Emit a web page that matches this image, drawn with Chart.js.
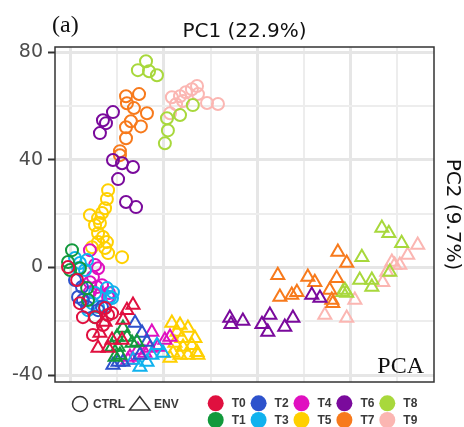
<!DOCTYPE html>
<html>
<head>
<meta charset="utf-8">
<script src="https://cdn.jsdelivr.net/npm/chart.js@4.4.1/dist/chart.umd.min.js"></script>
<style>
  html, body { margin: 0; padding: 0; background: #fff; }
  canvas { display: block; }
</style>
</head>
<body>
<canvas id="pcaChart" width="464" height="427"></canvas>
<script>
// groups and their colours
const groups = ['T0', 'T1', 'T2', 'T3', 'T4', 'T5', 'T6', 'T7', 'T8', 'T9'];
const groupColors = ['#e0103f', '#12993c', '#2d52cc', '#10b2ee', '#e010c0', '#ffd000', '#7a0a9c', '#f77a1c', '#a8d83c', '#fbb6b2'];

// PC1 / PC2 scores, control samples (circles)
const t0Ctrl = [[-41.2, 0.1], [-37.3, -4.7], [-36.1, -13.3], [-34.8, -18.5], [-29.6, -18.5], [-22.3, -17.0], [-26.2, -21.4], [-24.0, -17.7], [-30.5, -25.1], [-25.3, -15.1]];
const t1Ctrl = [[-39.5, 6.4], [-41.2, 2.0], [-40.3, -1.0], [-36.1, -0.3], [-33.0, -7.7], [-32.6, -12.1], [-29.6, -18.5]];
const t2Ctrl = [[-38.2, -4.7], [-35.2, -7.3], [-34.8, -12.1], [-33.0, -14.7], [-26.6, -14.7], [-28.3, -15.9], [-36.9, -11.0]];
const t3Ctrl = [[-38.2, 3.5], [-36.1, 1.6], [-33.0, 2.7], [-33.9, -1.0], [-24.5, -7.7], [-23.2, -11.0], [-30.9, -13.3], [-28.3, -14.7], [-32.6, -15.9], [-25.3, -14.7], [-29.6, -9.5], [-36.9, -0.3], [-21.9, -9.2], [-22.3, -11.4]];
const t4Ctrl = [[-31.8, 6.4], [-29.6, 0.9], [-28.3, -0.3], [-31.8, -5.5], [-28.8, -7.3], [-26.6, -6.6], [-31.8, -9.2], [-27.5, -10.3], [-24.0, -11.0], [-30.5, -3.6], [-23.6, -9.5]];
const t5Ctrl = [[-24.0, 28.7], [-24.5, 25.4], [-25.3, 22.0], [-26.6, 20.2], [-31.8, 19.4], [-28.3, 18.3], [-29.6, 15.7], [-27.5, 16.5], [-28.3, 12.7], [-26.2, 11.3], [-28.3, 9.4], [-24.5, 9.4], [-25.3, 7.2], [-30.9, 7.5], [-24.0, 5.3], [-18.0, 3.8]];
const t6Ctrl = [[-21.9, 57.7], [-26.2, 54.7], [-24.9, 53.6], [-27.5, 49.9], [-21.9, 39.9], [-18.0, 38.7], [-13.3, 37.3], [-19.7, 32.8], [-16.3, 24.3], [-12.0, 22.4]];
const t7Ctrl = [[-16.3, 63.6], [-10.7, 64.4], [-15.9, 61.0], [-12.9, 59.2], [-7.3, 57.3], [-14.2, 54.3], [-9.9, 52.4], [-16.3, 52.1], [-16.3, 48.0], [-18.9, 43.2], [-18.9, 41.7]];
const t8Ctrl = [[-7.7, 76.6], [-11.2, 73.3], [-6.4, 72.9], [-3.0, 71.4], [12.4, 60.3], [6.9, 56.6], [1.3, 55.4], [1.7, 50.9], [0.4, 46.1]];
const t9Ctrl = [[14.2, 67.4], [12.0, 66.2], [9.4, 65.1], [6.9, 63.6], [3.4, 63.2], [5.2, 60.6], [2.6, 57.3], [8.2, 61.8], [18.5, 61.1], [23.2, 60.7], [14.6, 64.4]];

// environment samples (triangles)
const t0Env = [[-13.3, -14.0], [-15.9, -15.9], [-25.3, -20.3], [-17.6, -19.6], [-27.5, -24.4], [-28.3, -30.0], [-24.0, -30.0], [-22.3, -27.0], [-18.0, -27.0]];
const t1Env = [[-17.6, -22.5], [-20.2, -25.9], [-22.3, -29.6], [-19.7, -29.6], [-15.9, -25.9], [-18.9, -32.6], [-21.0, -33.3], [-13.7, -28.1], [-11.6, -27.7]];
const t2Env = [[-12.4, -20.7], [-9.4, -24.4], [-7.3, -27.7], [-19.7, -35.2], [-17.6, -35.2], [-10.3, -32.6], [-21.9, -36.3]];
const t3Env = [[-10.3, -37.0], [-3.0, -28.9], [-5.2, -32.6], [-0.4, -31.8], [-7.3, -35.2], [-13.3, -34.4]];
const t4Env = [[-5.2, -24.0], [0.4, -27.0], [2.6, -25.9], [-2.6, -29.6], [-6.0, -30.0], [-11.2, -30.7], [-14.6, -33.3], [-15.5, -34.4], [-8.2, -31.8]];
const t5Env = [[3.4, -20.7], [6.9, -21.4], [10.3, -22.5], [5.6, -24.0], [7.7, -26.3], [13.3, -26.3], [4.7, -28.1], [8.2, -29.6], [12.0, -28.9], [14.2, -31.5], [3.9, -31.8], [6.9, -32.6], [10.3, -32.6], [14.6, -32.6], [2.6, -33.7]];
const t6Env = [[28.3, -18.8], [28.8, -21.1], [33.9, -19.9], [42.1, -21.1], [45.5, -17.7], [44.6, -24.0], [51.9, -22.2], [55.4, -18.8], [63.5, -10.3], [67.0, -11.4]];
const t7Env = [[48.9, -2.9], [49.8, -11.0], [54.9, -10.3], [57.1, -9.2], [61.8, -3.6], [64.8, -5.5], [71.2, -8.4], [74.2, -4.0], [72.1, -12.1], [72.5, -13.3], [74.7, 5.7], [78.5, 1.6]];
const t8Env = [[93.6, 14.6], [96.6, 12.7], [102.1, 9.0], [85.0, 3.8], [84.1, -4.7], [89.3, -4.7], [89.3, -7.3], [77.7, -8.4], [76.8, -9.2], [78.5, -9.5], [97.0, -1.7]];
const t9Env = [[109.0, 8.3], [104.7, 4.6], [101.3, 0.9], [99.1, 0.9], [97.9, 2.0], [94.0, -5.5], [95.7, -1.7], [82.0, -12.1], [69.1, -17.7], [78.5, -18.8]];

const ctrlData = [t0Ctrl, t1Ctrl, t2Ctrl, t3Ctrl, t4Ctrl, t5Ctrl, t6Ctrl, t7Ctrl, t8Ctrl, t9Ctrl];
const envData = [t0Env, t1Env, t2Env, t3Env, t4Env, t5Env, t6Env, t7Env, t8Env, t9Env];

// axis ticks
const yTicks = [-40, 0, 40, 80];
const xTitle = 'PC1 (22.9%)';
const yTitle = 'PC2 (9.7%)';

function toPoints(arr) {
  return arr.map(p => ({ x: p[0], y: p[1] }));
}

const datasets = [];
groups.forEach((g, i) => {
  datasets.push({
    label: g + ' CTRL',
    data: toPoints(ctrlData[i]),
    pointStyle: 'circle',
    pointRadius: 6,
    pointBorderWidth: 2,
    pointBorderColor: groupColors[i],
    pointBackgroundColor: 'rgba(0,0,0,0)'
  });
});
groups.forEach((g, i) => {
  datasets.push({
    label: g + ' ENV',
    data: toPoints(envData[i]),
    pointStyle: 'triangle',
    pointRadius: 7.5,
    pointBorderWidth: 2,
    pointBorderColor: groupColors[i],
    pointBackgroundColor: 'rgba(0,0,0,0)'
  });
});

const isMajor = v => Math.abs(v % 40) < 1e-6;

// panel border, labels and the legend underneath
const extras = {
  id: 'extras',
  afterDatasetsDraw(chart) {
    const { ctx, chartArea: a } = chart;
    ctx.save();
    ctx.strokeStyle = '#333';
    ctx.lineWidth = 1.5;
    ctx.strokeRect(a.left, a.top, a.right - a.left, a.bottom - a.top);

    ctx.fillStyle = '#111';
    ctx.font = '24px "Liberation Serif"';
    ctx.textAlign = 'right';
    ctx.textBaseline = 'alphabetic';
    ctx.fillText('PCA', a.right - 10, a.bottom - 9);
    ctx.restore();
  },
  afterDraw(chart) {
    const ctx = chart.ctx;
    ctx.save();
    ctx.fillStyle = '#111';
    ctx.font = '24px "Liberation Serif"';
    ctx.textAlign = 'left';
    ctx.textBaseline = 'alphabetic';
    ctx.fillText('(a)', 52, 32);

    // shape legend
    ctx.strokeStyle = '#333';
    ctx.lineWidth = 1.5;
    ctx.beginPath();
    ctx.arc(80, 404, 7.5, 0, Math.PI * 2);
    ctx.stroke();
    ctx.beginPath();
    ctx.moveTo(129.5, 410);
    ctx.lineTo(150, 410);
    ctx.lineTo(139.75, 396.5);
    ctx.closePath();
    ctx.stroke();

    ctx.fillStyle = '#3a3a3a';
    ctx.font = 'bold 12px "Liberation Sans"';
    ctx.textBaseline = 'middle';
    ctx.fillText('CTRL', 93, 404.5);
    ctx.fillText('ENV', 154, 404.5);

    // colour legend, 2 rows x 5 columns
    groups.forEach((g, i) => {
      const col = Math.floor(i / 2);
      const row = i % 2;
      const cx = 215.7 + col * 42.9;
      const cy = 403.3 + row * 16.7;
      ctx.fillStyle = groupColors[i];
      ctx.beginPath();
      ctx.arc(cx, cy, 8, 0, Math.PI * 2);
      ctx.fill();
      ctx.fillStyle = '#3a3a3a';
      ctx.fillText(g, cx + 16, cy + 0.5);
    });
    ctx.restore();
  }
};

new Chart(document.getElementById('pcaChart'), {
  type: 'scatter',
  data: { datasets: datasets },
  options: {
    responsive: false,
    animation: false,
    layout: { padding: { left: 0, right: 0, top: 0, bottom: 45 } },
    plugins: {
      legend: { display: false },
      tooltip: { enabled: false }
    },
    scales: {
      x: {
        type: 'linear',
        position: 'top',
        min: -46.8,
        max: 116,
        ticks: { display: false, stepSize: 20, includeBounds: false },
        grid: {
          drawTicks: false,
          color: c => isMajor(c.tick.value) ? '#e6e6e6' : '#ededed',
          lineWidth: c => isMajor(c.tick.value) ? 3 : 2
        },
        border: { display: false },
        title: {
          display: true,
          text: xTitle,
          color: '#111',
          font: { family: 'DejaVu Sans', size: 20 },
          padding: { top: 20, bottom: 0 }
        },
        afterFit: s => { s.height = 47; }
      },
      y: {
        type: 'linear',
        position: 'left',
        min: -42.6,
        max: 81.9,
        ticks: {
          stepSize: 20,
          includeBounds: false,
          padding: 5,
          color: '#4d4d4d',
          font: { family: 'DejaVu Sans', size: 19 },
          callback: v => yTicks.includes(v) ? String(v) : ''
        },
        grid: {
          tickLength: 7,
          tickWidth: 2,
          tickColor: c => isMajor(c.tick.value) ? '#333' : 'rgba(0,0,0,0)',
          color: c => isMajor(c.tick.value) ? '#e6e6e6' : '#ededed',
          lineWidth: c => isMajor(c.tick.value) ? 3 : 2
        },
        border: { display: false },
        afterFit: s => { s.width = 55; }
      },
      y2: {
        type: 'linear',
        position: 'right',
        ticks: { display: false },
        grid: { display: false, drawTicks: false },
        border: { display: false },
        title: {
          display: true,
          text: yTitle,
          color: '#111',
          font: { family: 'DejaVu Sans', size: 20 },
          padding: { top: 0, bottom: 0 }
        },
        afterFit: s => { s.width = 30; }
      }
    }
  },
  plugins: [extras]
});
</script>
</body>
</html>
